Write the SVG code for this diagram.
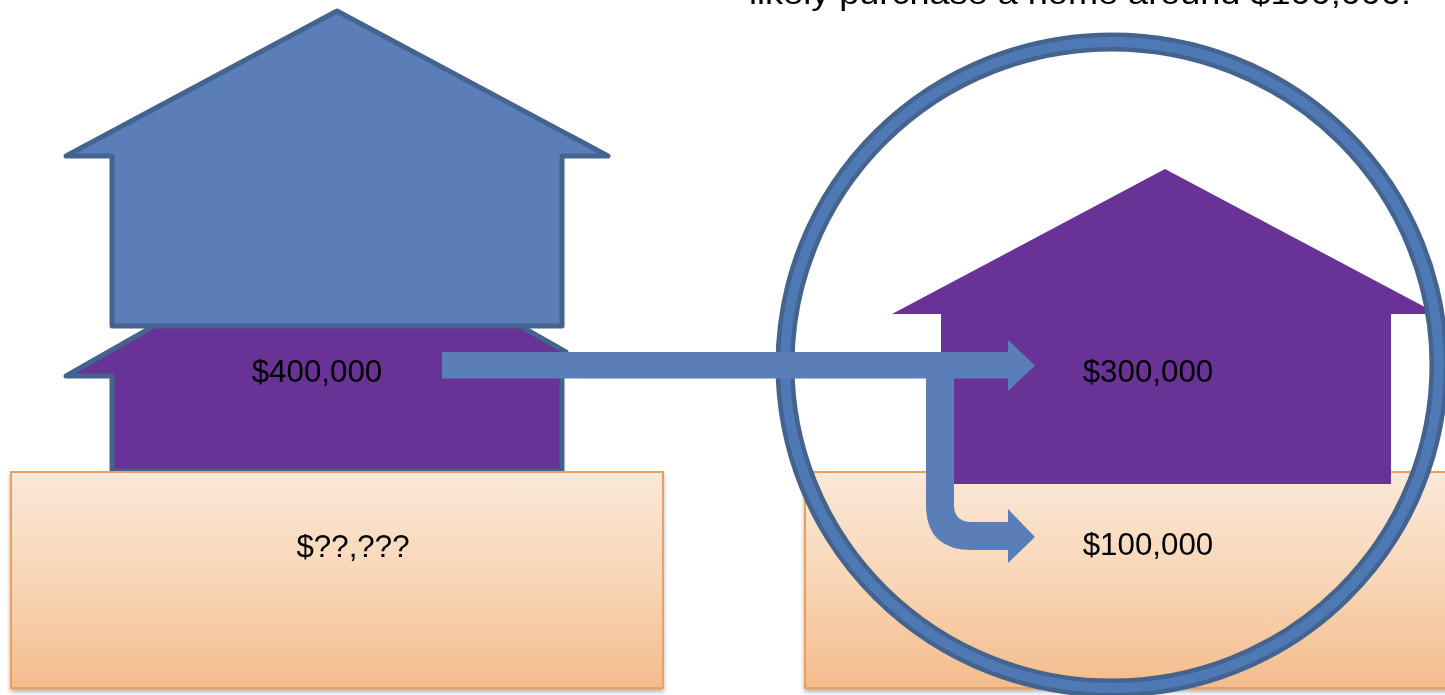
<svg xmlns="http://www.w3.org/2000/svg" width="1445" height="695" viewBox="0 0 1445 695">
<style>
text{font-family:"Liberation Sans",Arial,sans-serif;fill:#000}
.v{font-size:31.3px;text-anchor:middle}
.box{fill:url(#g);stroke:#ee9f5c;stroke-width:2;filter:url(#s)}
.blue{fill:#5a7fb8}
.edge{stroke:#44638f;stroke-width:5;stroke-linejoin:round}
</style>
<defs>
<linearGradient id="g" x1="0" y1="0" x2="0" y2="1"><stop offset="0" stop-color="#fbe8d8"/><stop offset=".5" stop-color="#f8d6b6"/><stop offset="1" stop-color="#f4bc8c"/></linearGradient>
<filter id="s" x="-5%" y="-5%" width="110%" height="110%"><feDropShadow dx="0" dy="3" stdDeviation="2" flood-color="#000" flood-opacity=".3"/></filter>
<filter id="soft" x="0" y="0" width="1445" height="695" filterUnits="userSpaceOnUse"><feGaussianBlur stdDeviation="0.6"/></filter>
</defs>
<rect width="1445" height="695" fill="#fff"/>
<g filter="url(#soft)">
<text x="749" y="3.5" font-size="31.5" textLength="662" lengthAdjust="spacingAndGlyphs">likely purchase a home around $100,000.</text>
<g id="lower-house-left"><path class="edge" fill="#673397" d="M66 376 L337 222 L566 352 L562 362 L562 471 L112 471 L112 376 Z"/></g>
<g id="upper-house-left"><path class="edge blue" d="M66 156 L337 11 L608 156 L562 156 L562 326 L112 326 L112 156 Z"/></g>
<g id="base-left"><rect class="box" x="11" y="472" width="652" height="216"/><text class="v" x="353" y="557">$??,???</text></g>
<g id="base-right"><rect class="box" x="805" y="472" width="660" height="216"/></g>
<g id="house-right"><path fill="#673397" d="M892 314 L1165 169 L1438 314 L1391 314 L1391 484 L941 484 L941 314 Z"/></g>
<g id="circle"><ellipse cx="1112" cy="365" rx="327" ry="323" fill="none" stroke="#44638f" stroke-width="19"/><ellipse cx="1112" cy="365" rx="327" ry="323" fill="none" stroke="#4f79b5" stroke-width="10"/></g>
<g id="connectors">
<path class="blue" d="M442 352 H1008 V340 L1035 365.500 L1008 391 V378.500 H954 V505 Q954 522 972 522 H1008 V509 L1035 537 L1008 563 V550 H972 Q926 550 926 505 V378.500 H442 Z"/>
</g>
<g id="labels">
<text class="v" x="317" y="382">$400,000</text>
<text class="v" x="1148" y="382">$300,000</text>
<text class="v" x="1148" y="555">$100,000</text>
</g>
</g>
</svg>
